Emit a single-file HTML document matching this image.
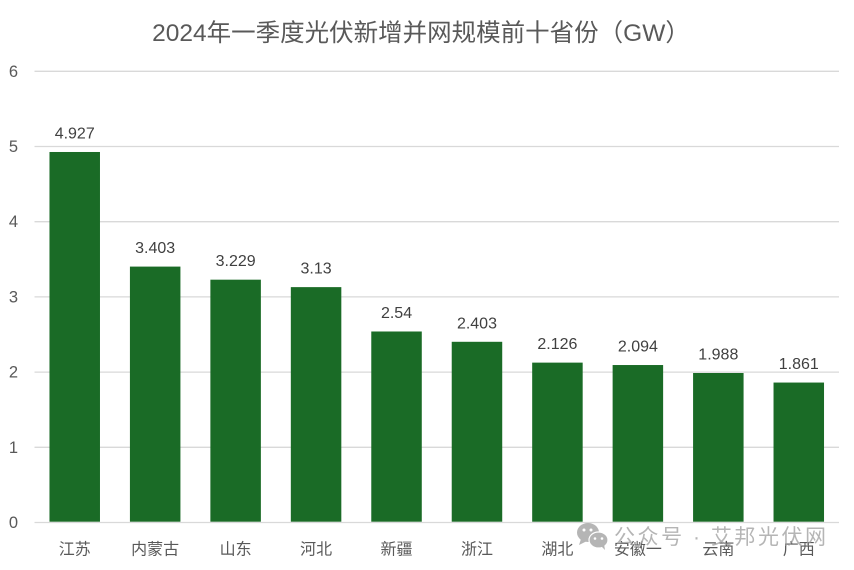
<!DOCTYPE html>
<html lang="zh">
<head>
<meta charset="utf-8">
<title>2024年一季度光伏新增并网规模前十省份（GW）</title>
<style>
html,body{margin:0;padding:0;background:#fff;}
body{width:854px;height:570px;overflow:hidden;}
svg{display:block;}
text{font-family:"Liberation Sans","Noto Sans CJK SC",sans-serif;}
</style>
</head>
<body>
<svg id="chart" xmlns="http://www.w3.org/2000/svg" width="854" height="570" viewBox="0 0 854 570">
  <rect x="0" y="0" width="854" height="570" fill="#ffffff"/>
  <text x="421" y="41" text-anchor="middle" font-size="24.5" fill="#595959">2024年一季度光伏新增并网规模前十省份（GW）</text>
  <g id="grid"></g>
  <g id="yticks"></g>
  <g id="bars"></g>
  <g id="values"></g>
  <g id="xticks"></g>
  <g>
    <g fill="#b5b5b5">
      <ellipse cx="588" cy="532.5" rx="11" ry="9.5"/>
      <path d="M581 539 L579 545 L587 541 Z"/>
      <ellipse cx="598.5" cy="540" rx="9.5" ry="8" stroke="#ffffff" stroke-width="1.2"/>
      <path d="M601 546 L605 550 L604 544 Z"/>
      <circle cx="584" cy="530" r="1.5" fill="#ffffff"/>
      <circle cx="591" cy="530" r="1.5" fill="#ffffff"/>
      <circle cx="595" cy="538.5" r="1.3" fill="#ffffff"/>
      <circle cx="602" cy="538.5" r="1.3" fill="#ffffff"/>
    </g>
    <text x="614" y="544" font-size="21" fill="#9c9c9c" fill-opacity="0.75" textLength="212" lengthAdjust="spacing">公众号 · 艾邦光伏网</text>
  </g>
</svg>
<script>
const categories = ["江苏", "内蒙古", "山东", "河北", "新疆", "浙江", "湖北", "安徽一", "云南", "广西"];
const generationValues = [4.927, 3.403, 3.229, 3.13, 2.54, 2.403, 2.126, 2.094, 1.988, 1.861];
const valueLabels = ["4.927", "3.403", "3.229", "3.13", "2.54", "2.403", "2.126", "2.094", "1.988", "1.861"];
const yTickLabels = [0, 1, 2, 3, 4, 5, 6];

const NS = "http://www.w3.org/2000/svg";
const plotLeft = 34.5, plotRight = 839, plotBottom = 522.5, plotTop = 71.3;
const yMax = 6;
const barWidth = 50.5;

function yScale(v) {
  return plotBottom - (v / yMax) * (plotBottom - plotTop);
}
function xCenter(i) {
  const step = (plotRight - plotLeft) / categories.length;
  return plotLeft + step * (i + 0.5);
}
function make(tag, attrs, parent, content) {
  const el = document.createElementNS(NS, tag);
  for (const k in attrs) el.setAttribute(k, attrs[k]);
  if (content !== undefined) el.textContent = content;
  parent.appendChild(el);
  return el;
}

const gridG = document.getElementById("grid");
const yG = document.getElementById("yticks");
const barsG = document.getElementById("bars");
const valuesG = document.getElementById("values");
const xG = document.getElementById("xticks");

yTickLabels.forEach(function (t) {
  const y = yScale(t);
  const line = make("line", {x1: plotLeft, x2: plotRight, y1: y, y2: y, stroke: "#d9d9d9", "stroke-width": 1.3}, gridG);
  
  
  const label = make("text", {x: 13.5, y: y + 5.5, "text-anchor": "middle", "font-size": 16.5, fill: "#595959"}, yG, String(t));
  
  
});

categories.forEach(function (name, i) {
  const v = generationValues[i];
  const cx = xCenter(i);
  const top = yScale(v);
  const bar = make("rect", {x: cx - barWidth / 2, y: top, width: barWidth, height: plotBottom - 0.8 - top, fill: "#1a6b26"}, barsG);
  
  
  const val = make("text", {x: cx, y: top - 13.5, "text-anchor": "middle", "font-size": 16, fill: "#404040"}, valuesG, valueLabels[i]);
  
  
  const cat = make("text", {x: cx, y: 554.5, "text-anchor": "middle", "font-size": 16, fill: "#595959"}, xG, name);
  
  
});
</script>
</body>
</html>
